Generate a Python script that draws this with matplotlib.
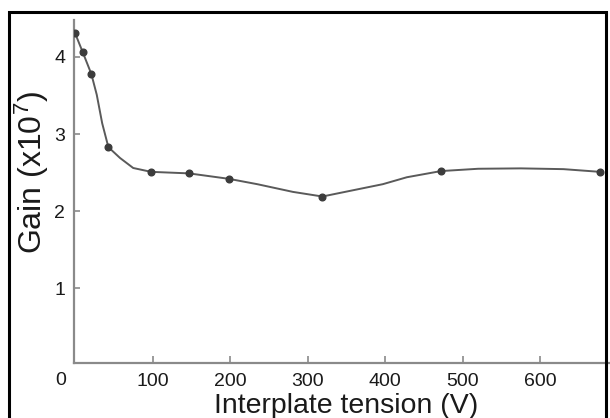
import matplotlib
matplotlib.use("Agg")
import matplotlib.pyplot as plt
from matplotlib.patches import Rectangle

plt.rcParams['font.family'] = ['Liberation Sans', 'DejaVu Sans']
plt.rcParams['mathtext.fontset'] = 'custom'
plt.rcParams['mathtext.rm'] = 'Liberation Sans'
plt.rcParams['mathtext.it'] = 'Liberation Sans'

# -------- DATA --------
# measured points (markers)
tension = [0, 10, 21, 43, 98, 147, 198, 319, 472, 677]
gain = [4.31, 4.06, 3.78, 2.83, 2.51, 2.49, 2.42, 2.19, 2.52, 2.51]

# hand-drawn curve through the points
curve_x = [0, 10, 21, 28, 35, 43, 58, 75, 98, 147, 198, 235, 281, 319,
           397, 428, 472, 520, 575, 630, 677]
curve_y = [4.31, 4.06, 3.78, 3.51, 3.14, 2.83, 2.69, 2.56, 2.51, 2.49, 2.42,
           2.35, 2.25, 2.19, 2.35, 2.44, 2.52, 2.55, 2.555, 2.545, 2.51]

xticks = [100, 200, 300, 400, 500, 600]
yticks = [1, 2, 3, 4]

# -------- PLOT --------
fig = plt.figure(figsize=(6.10, 4.18), dpi=100)
ax = fig.add_axes([73.5 / 610, 1 - 363 / 418, 1 - 73.5 / 610, (363 - 20) / 418])

axis_gray = '#8a8a8a'
ax.plot(curve_x, curve_y, '-', color='#5a5a5a', linewidth=1.4, zorder=2)
ax.plot(tension, gain, 'o', color='#3c3c3c', markersize=4.8, zorder=3)

ax.set_xlim(-2, 690)
ax.set_ylim(0.03, 4.48)

for side in ['top', 'right']:
    ax.spines[side].set_visible(False)
for side in ['left', 'bottom']:
    ax.spines[side].set_color(axis_gray)
    ax.spines[side].set_linewidth(1.6)

ax.set_xticks(xticks)
ax.set_yticks(yticks)
ax.tick_params(axis='both', direction='in', color=axis_gray, width=1.2,
               labelsize=14, labelcolor='#1a1a1a')
ax.tick_params(axis='x', length=5, pad=7)
ax.tick_params(axis='y', length=4, pad=6)

# the "0" sits left of the origin, on the x label row
ax.text(-19, -0.09, '0', ha='center', va='top', fontsize=14, color='#1a1a1a')

fig.text(346 / 610, 1 - 413 / 418, 'Interplate tension (V)', ha='center',
         va='baseline', fontsize=20.5, color='#1a1a1a')
fig.text(42 / 610, 1 - 172 / 418, 'Gain (x10$^7$)', rotation=90,
         rotation_mode='anchor', ha='center', va='baseline',
         fontsize=23, color='#1a1a1a')

# black border round the picture (open at the bottom)
fig.patches.append(Rectangle((9 / 610, -0.05), (606 - 9) / 610, 1.05 - 12 / 418,
                             transform=fig.transFigure, fill=False,
                             edgecolor='black', linewidth=2.2, clip_on=False))

fig.savefig('out.png', dpi=100)
